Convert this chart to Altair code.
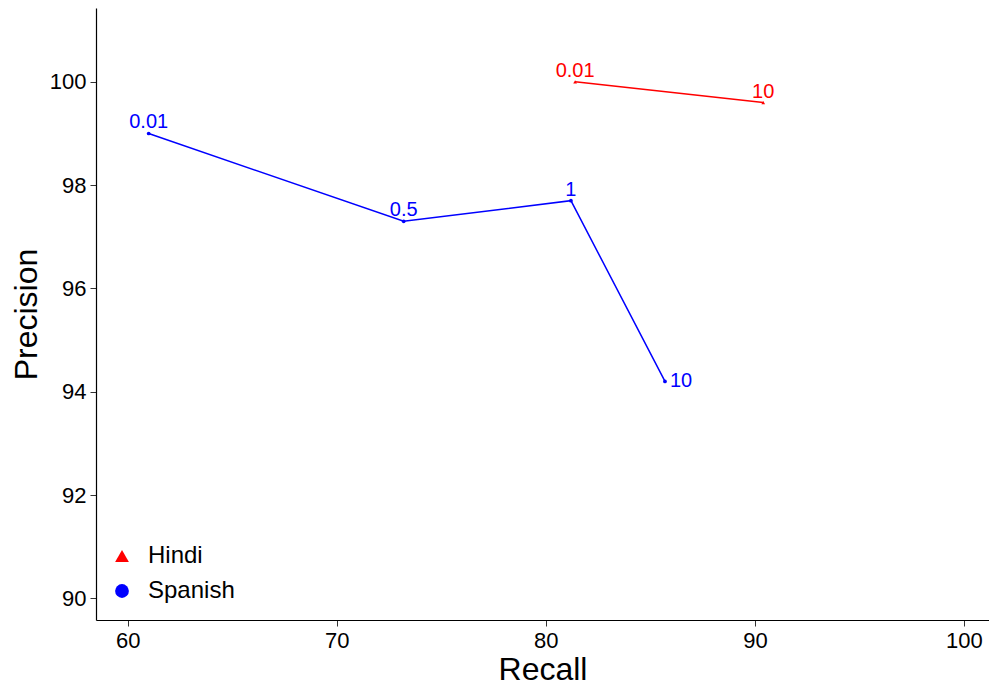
import altair as alt
import pandas as pd

languages = ["Hindi", "Hindi", "Spanish", "Spanish", "Spanish", "Spanish"]
recall = [81.4, 90.4, 61.0, 73.2, 81.2, 85.7]
precision = [100.0, 99.6, 99.0, 97.3, 97.7, 94.2]
labels = ["0.01", "10", "0.01", "0.5", "1", "10"]
order = [1, 2, 1, 2, 3, 4]
side_label = [False, False, False, False, False, True]

df = pd.DataFrame({
    "Language": languages,
    "Recall": recall,
    "Precision": precision,
    "label": labels,
    "order": order,
    "side": side_label,
})

FONT = "Liberation Sans"
x_scale = alt.Scale(domain=[58.48, 101.2], nice=False, zero=False)
y_scale = alt.Scale(domain=[89.58, 101.43], nice=False, zero=False)
color_scale = alt.Scale(domain=["Hindi", "Spanish"], range=["#ff0000", "#0000ff"])
shape_scale = alt.Scale(domain=["Hindi", "Spanish"], range=["triangle-up", "circle"])

legend = alt.Legend(title=None, orient="none", legendX=14, legendY=536,
                    symbolSize=190, labelFontSize=24, labelFont=FONT,
                    labelColor="#000000", rowPadding=11, labelOffset=14,
                    symbolStrokeWidth=0, symbolType="circle")

x_enc = alt.X("Recall:Q", scale=x_scale, title="Recall",
              axis=alt.Axis(values=[60, 70, 80, 90, 100], grid=False))
y_enc = alt.Y("Precision:Q", scale=y_scale, title="Precision",
              axis=alt.Axis(values=[90, 92, 94, 96, 98, 100], grid=False))
color_enc = alt.Color("Language:N", scale=color_scale, legend=legend)
shape_enc = alt.Shape("Language:N", scale=shape_scale, legend=legend)

base = alt.Chart(df)

lines = base.mark_line(strokeWidth=1.5).encode(
    x=x_enc, y=y_enc,
    color=color_enc,
    detail="Language:N",
    order="order:Q",
)

points = base.mark_point(filled=True, size=14, opacity=1).encode(
    x=x_enc, y=y_enc,
    color=color_enc,
    shape=shape_enc,
)

text_top = base.transform_filter("!datum.side").mark_text(
    fontSize=20, font=FONT, baseline="middle", align="center", dy=-11
).encode(
    x=x_enc, y=y_enc, text="label:N",
    color=color_enc,
)

text_side = base.transform_filter("datum.side").mark_text(
    fontSize=20, font=FONT, baseline="middle", align="left", dx=5
).encode(
    x=x_enc, y=y_enc, text="label:N",
    color=color_enc,
)

chart = alt.layer(lines, points, text_top, text_side).properties(
    width=893, height=612,
    autosize=alt.AutoSizeParams(type="none"),
    padding={"left": 88, "top": 0, "right": 0, "bottom": 66},
    background="white",
).configure_view(stroke=None).configure_axis(
    labelFont=FONT, titleFont=FONT, labelFontSize=22, titleFontSize=32,
    labelColor="#000000", titleColor="#000000", titleFontWeight="normal",
    domainColor="#000000", domainWidth=1.2, tickColor="#333333", tickSize=6,
    labelPadding=4,
).configure_axisX(titlePadding=3).configure_axisY(titlePadding=6)

chart.save("out.html", embed_options={"renderer": "svg", "actions": False})
